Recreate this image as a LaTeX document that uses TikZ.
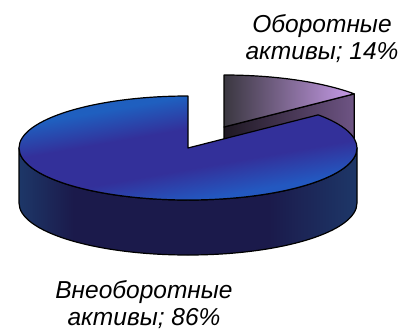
\documentclass[tikz,border=0pt]{standalone}
\usepackage{fontspec}
\setmainfont{Liberation Sans}
\definecolor{topblue}{HTML}{1F5FBF}
\definecolor{lowblue}{HTML}{2358C0}
\definecolor{toppurple}{HTML}{33309A}
\definecolor{sideedge}{HTML}{1D3768}
\definecolor{sidemid}{HTML}{1B1A4B}
\definecolor{smdark}{HTML}{3A3740}
\definecolor{smlight}{HTML}{C89CEA}
\definecolor{raddark}{HTML}{1E1822}
\definecolor{radlight}{HTML}{6E5484}
\pgfdeclareverticalshading{topsh}{100bp}{color(0bp)=(lowblue); color(37bp)=(lowblue); color(45bp)=(toppurple); color(55bp)=(toppurple); color(63bp)=(topblue); color(100bp)=(topblue)}
\pgfdeclarehorizontalshading{sidesh}{100bp}{color(0bp)=(sideedge); color(25bp)=(sideedge); color(33bp)=(sidemid); color(62bp)=(sidemid); color(75bp)=(sideedge); color(100bp)=(sideedge)}
\begin{document}
\begin{tikzpicture}[x=1pt,y=1pt,
  edge/.style={draw=black,line width=1.2pt,line join=round},
  lbl/.style={inner sep=0pt,align=center,font=\fontsize{24.5}{27}\selectfont\itshape}]
\useasboundingbox (0,0) rectangle (406,333);
% small slice (14%), exploded
\coordinate (sc) at (224,206);
\shade[edge,left color=raddark,right color=radlight]
  (sc) -- ++(130.2,33.1) -- ++(0,-55) -- ++(-130.2,-33.1) -- cycle;
\shade[edge,left color=smdark,right color=smlight]
  (sc) -- ++(0,52) arc[start angle=90,end angle=39.6,x radius=169pt,y radius=52pt] -- cycle;
% big slice (86%): side
\shade[edge,shading=sidesh]
  (19,185) arc[start angle=180,end angle=360,x radius=169pt,y radius=52pt]
  -- ++(0,-55) arc[start angle=0,end angle=-180,x radius=169pt,y radius=52pt] -- cycle;
% big slice: top face
\coordinate (bc) at (188,185);
\begin{scope}
  \clip (bc) -- ++(0,52) arc[start angle=90,end angle=399.6,x radius=169pt,y radius=52pt] -- cycle;
  \shade[shading=topsh,transform canvas={rotate around={10:(187,184)}}]
    (-30,84) rectangle (410,284);
\end{scope}
\draw[edge] (bc) -- ++(0,52) arc[start angle=90,end angle=399.6,x radius=169pt,y radius=52pt] -- cycle;
% labels
\node[lbl] (l14) at (322,294) {Оборотные\\активы; 14\%};
\node[lbl] (l86) at (144,28.5) {Внеоборотные\\активы; 86\%};
\end{tikzpicture}
\end{document}
